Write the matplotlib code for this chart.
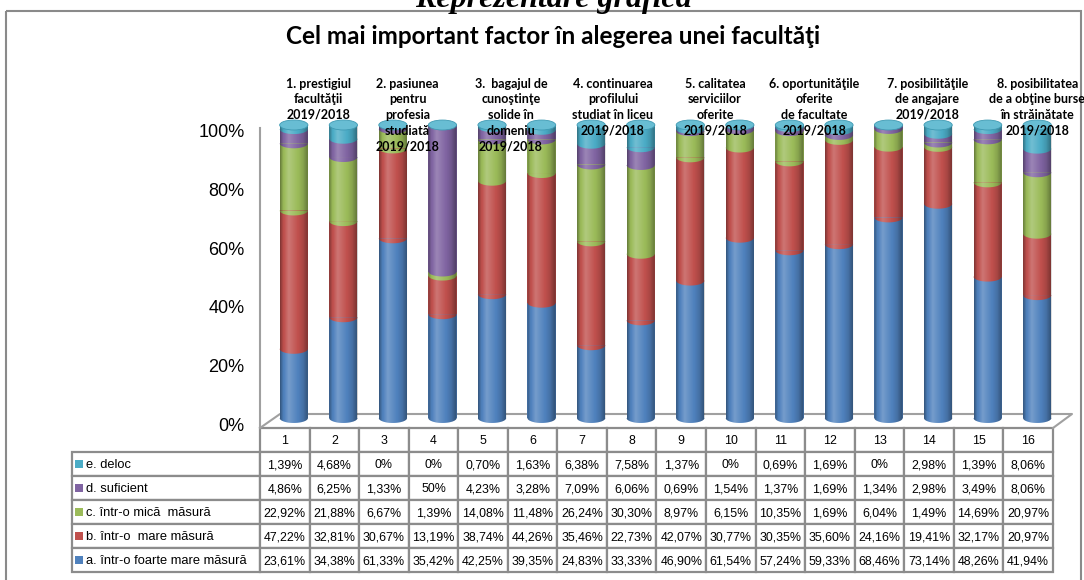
import matplotlib.pyplot as plt
import matplotlib.patches as patches
import numpy as np

plt.rcParams['font.family'] = ['Liberation Sans', 'DejaVu Sans']

# values (percent)
categories = [str(i) for i in range(1, 17)]
series_names = ['a. într-o foarte mare măsură', 'b. într-o  mare măsură',
                'c. într-o mică  măsură', 'd. suficient', 'e. deloc']
foarte = [23.61, 34.38, 61.33, 35.42, 42.25, 39.35, 24.83, 33.33,
          46.90, 61.54, 57.24, 59.33, 68.46, 73.14, 48.26, 41.94]
mare = [47.22, 32.81, 30.67, 13.19, 38.74, 44.26, 35.46, 22.73,
        42.07, 30.77, 30.35, 35.60, 24.16, 19.41, 32.17, 20.97]
mica = [22.92, 21.88, 6.67, 1.39, 14.08, 11.48, 26.24, 30.30,
        8.97, 6.15, 10.35, 1.69, 6.04, 1.49, 14.69, 20.97]
suficient = [4.86, 6.25, 1.33, 50, 4.23, 3.28, 7.09, 6.06,
             0.69, 1.54, 1.37, 1.69, 1.34, 2.98, 3.49, 8.06]
deloc = [1.39, 4.68, 0, 0, 0.70, 1.63, 6.38, 7.58,
         1.37, 0, 0.69, 1.69, 0, 2.98, 1.39, 8.06]
factors = ['1. prestigiul\nfacultăţii\n2019/2018',
           '2. pasiunea\npentru\nprofesia\nstudiată\n2019/2018',
           '3.  bagajul de\ncunoştinţe\nsolide în\ndomeniu\n2019/2018',
           '4. continuarea\nprofilului\nstudiat în liceu\n2019/2018',
           '5. calitatea\nserviciilor\noferite\n2019/2018',
           '6. oportunităţile\noferite\nde facultate\n2019/2018',
           '7. posibilităţile\nde angajare\n2019/2018',
           '8. posibilitatea\nde a obţine burse\nîn străinătate\n2019/2018']

series = [foarte, mare, mica, suficient, deloc]
colors = ['#4F81BD', '#C0504D', '#9BBB59', '#8064A2', '#4BACC6']

W, H = 1084, 580


def fig_rect(left, top, right, bottom):
    # pixel box -> figure fraction
    return [left / W, 1 - bottom / H, (right - left) / W, (bottom - top) / H]


def pct(v):
    return f'{v:g}%' if v == int(v) else f'{v:.2f}%'.replace('.', ',')


fig = plt.figure(figsize=(W / 100, H / 100), dpi=100)

# background axes in pixel units for frame, titles, floor, table
bg = fig.add_axes([0, 0, 1, 1], zorder=0)
bg.set_xlim(0, W)
bg.set_ylim(H, 0)
bg.axis('off')

bg.add_patch(patches.Rectangle((6, 11), 1075, 600, fill=False,
                               edgecolor='#8a8a8a', linewidth=1.5))
# heading of the page, cut by the top edge as in the original
bg.text(553, 7, 'Reprezentare grafică', ha='center', va='baseline',
        fontsize=23, fontweight='bold', fontstyle='italic',
        family=['Liberation Serif', 'DejaVu Serif'])
bg.text(553, 37, 'Cel mai important factor în alegerea unei facultăţi',
        ha='center', va='center', fontsize=17.5, fontweight='bold',
        family=['Lato', 'DejaVu Sans'])

# 3D floor outline
bg.plot([260, 280, 1072, 1053], [428, 414, 414, 428], color='#a0a0a0', lw=1.5)

# y axis (front plane)
ax_y = fig.add_axes(fig_rect(260, 128, 262, 427), zorder=1)
ax_y.set_ylim(-0.68, 100.68)
ax_y.set_yticks(range(0, 101, 20))
ax_y.set_yticklabels([f'{t}%' for t in range(0, 101, 20)], fontsize=13)
ax_y.tick_params(axis='y', length=0, pad=11)
ax_y.set_xticks([])
ax_y.patch.set_visible(False)
for side in ['top', 'right', 'bottom']:
    ax_y.spines[side].set_visible(False)
ax_y.spines['left'].set_color('#a0a0a0')
ax_y.spines['left'].set_linewidth(1.5)

# bars (cylinders)
ax = fig.add_axes(fig_rect(269, 113.3, 1062, 429.7), zorder=2)
x = np.arange(1, len(categories) + 1)
w = 0.57
ry = 1.7

s = np.linspace(0, 1, 80)
v = np.interp(s, [0, 0.1, 0.3, 0.55, 0.8, 1], [-0.35, -0.05, 0.22, 0.05, -0.12, -0.4])
shade = np.zeros((1, 80, 4))
shade[0, :, :3] = (v > 0)[:, None] * 1.0
shade[0, :, 3] = np.abs(v)
t = np.linspace(np.pi, 2 * np.pi, 40)

bottom = np.zeros(len(x))
for k, (vals, col) in enumerate(zip(series, colors)):
    vals = np.array(vals, dtype=float)
    ax.bar(x, vals, w, bottom=bottom, color=col, linewidth=0, zorder=2 + k)
    for xi, b, val in zip(x, bottom, vals):
        if val > 0:
            arc = np.column_stack([xi + w / 2 * np.cos(t), b + ry * np.sin(t)])
            ax.add_patch(patches.Polygon(arc, closed=True, facecolor=col,
                                         linewidth=0, zorder=2 + k, clip_on=False))
    bottom += vals

for xi, top in zip(x, bottom):
    outline = np.vstack([[xi - w / 2, top],
                         np.column_stack([xi + w / 2 * np.cos(t), ry * np.sin(t)]),
                         [xi + w / 2, top]])
    clip = patches.Polygon(outline, closed=True, transform=ax.transData)
    im = ax.imshow(shade, extent=(xi - w / 2, xi + w / 2, -ry, top), aspect='auto',
                   interpolation='bilinear', zorder=9)
    im.set_clip_path(clip)
    ax.add_patch(patches.Ellipse((xi, top), w, 2 * ry, facecolor='#68bdd3',
                                 edgecolor='#3f9ab3', linewidth=0.6, zorder=12,
                                 clip_on=False))

ax.set_xlim(0.5, len(x) + 0.5)
ax.set_ylim(-4, 104)
ax.axis('off')

# factor labels over each pair of bars
label_shift = [0, -10, -6, -3, 0, 0, 14, 25]  # px
for p, (txt, dx) in enumerate(zip(factors, label_shift)):
    ax.annotate(txt, xy=(2 * p + 1.5, 100), xytext=(dx / 1.389, 34),
                textcoords='offset points', ha='center', va='top',
                fontsize=9, fontweight='bold', linespacing=1.36,
                family=['Lato', 'DejaVu Sans'], zorder=20, annotation_clip=False)

# data table (drawn cell by cell, pixel layout)
row_order = [4, 3, 2, 1, 0]
col_w = 49.56
tab_left, lab_left, tab_top, row_h = 260, 72, 428, 24
fs_lab, fs_val = 9.3, 8.9
cell_style = dict(facecolor='white', edgecolor='#8c8c8c', linewidth=1.6)
for j, cat in enumerate(categories):
    x0 = tab_left + j * col_w
    bg.add_patch(patches.Rectangle((x0, tab_top), col_w, row_h, **cell_style))
    bg.text(x0 + col_w / 2, tab_top + row_h / 2 + 1, cat, ha='center', va='center',
            fontsize=fs_val)
for i, r in enumerate(row_order):
    y0 = tab_top + row_h * (i + 1)
    cy = y0 + row_h / 2
    bg.add_patch(patches.Rectangle((lab_left, y0), tab_left - lab_left, row_h, **cell_style))
    bg.add_patch(patches.Rectangle((75, cy - 4), 8, 8, facecolor=colors[r], linewidth=0))
    bg.text(86, cy + 1, series_names[r], ha='left', va='center', fontsize=fs_lab)
    for j, val in enumerate(series[r]):
        x0 = tab_left + j * col_w
        bg.add_patch(patches.Rectangle((x0, y0), col_w, row_h, **cell_style))
        bg.text(x0 + col_w / 2, cy + 1, pct(val), ha='center', va='center', fontsize=fs_val)

plt.savefig('out.png', dpi=100)
